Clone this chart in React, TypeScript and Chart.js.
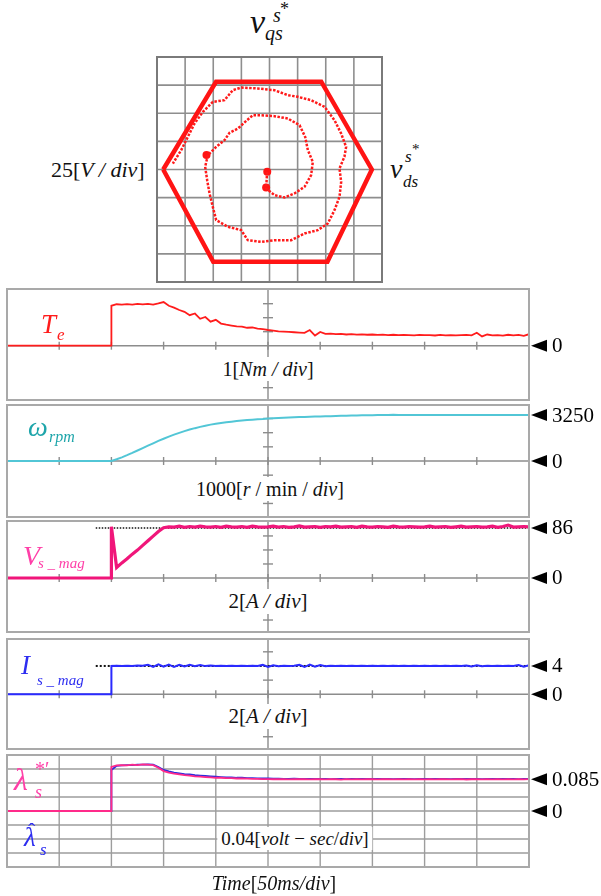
import React, { useEffect, useRef } from "react";
import { Chart, registerables } from "chart.js";

Chart.register(...registerables);

const FONT = "'Liberation Serif', 'Times New Roman', Times, serif";

// ---------------- data ----------------
// time axis (ms), 50 ms / div, step applied at 100 ms
const TIME_MS = [
  0, 25, 50, 75, 100,
  100, 105, 110, 115, 120, 125, 130, 135, 140, 145,
  150, 155, 160, 165, 170, 175, 180, 185, 190, 195,
  200, 205, 210, 215, 220, 225, 230, 235, 240, 245,
  250, 255, 260, 265, 270, 275, 280, 285, 290, 295,
  300, 305, 310, 315, 320, 325, 330, 335, 340, 345,
  350, 355, 360, 365, 370, 375, 380, 385, 390, 395,
  400, 405, 410, 415, 420, 425, 430, 435, 440, 445,
  450, 455, 460, 465, 470, 475, 480, 485, 490, 495,
  500,
];

const TORQUE_NM = [
  0, 0, 0, 0, 0,
  2.85, 2.96, 2.94, 2.97, 2.93, 2.98, 2.95, 2.99, 2.93, 3.02,
  3.12, 2.85, 2.72, 2.55, 2.42, 2.18, 2.3, 1.92, 2.05, 1.72,
  1.85, 1.58, 1.5, 1.44, 1.38, 1.36, 1.28, 1.3, 1.22, 1.18,
  1.12, 1.08, 1.02, 1.0, 0.98, 0.96, 0.94, 0.92, 1.12, 0.72,
  0.98, 0.84, 0.86, 0.82, 0.85, 0.8, 0.83, 0.79, 0.81, 0.78,
  0.8, 0.77, 0.79, 0.76, 0.78, 0.75, 0.77, 0.76, 0.74, 0.77,
  0.75, 0.76, 0.73, 0.77, 0.74, 0.76, 0.73, 0.75, 0.77, 0.74,
  0.92, 0.66, 0.8, 0.74, 0.76, 0.72, 0.78, 0.74, 0.77, 0.7,
  0.82,
];

const SPEED_RPM = [
  0, 0, 0, 0, 0,
  0, 120, 260, 410, 570, 740, 910, 1080, 1250, 1420,
  1570, 1720, 1860, 1990, 2110, 2220, 2320, 2410, 2490, 2570,
  2630, 2690, 2740, 2780, 2820, 2860, 2890, 2920, 2950, 2970,
  3000, 3020, 3040, 3060, 3075, 3090, 3105, 3115, 3130, 3140,
  3150, 3160, 3170, 3180, 3190, 3200, 3210, 3215, 3225, 3230,
  3240, 3245, 3250, 3250, 3260, 3250, 3250, 3255, 3250, 3250,
  3250, 3250, 3255, 3250, 3250, 3250, 3255, 3250, 3250, 3250,
  3250, 3250, 3250, 3255, 3250, 3250, 3250, 3250, 3255, 3250,
  3250,
];

const VS_MAG = [
  0, 0, 0, 0, 0,
  88, 18, 26, 33, 41, 48, 56, 64, 72, 80,
  86.5, 88, 87.5, 89, 87, 88.5, 87.5, 89, 88, 87.5,
  88.5, 87, 89, 88, 87.5, 88.5, 87, 89, 88, 87.5,
  88, 89, 87.5, 88.5, 87, 88, 89.5, 87.5, 88, 88.5,
  87, 88.5, 88, 89, 87.5, 88, 88.5, 87, 89, 88,
  87.5, 88.5, 88, 87, 89, 88, 87.5, 88.5, 88, 87.5,
  88, 89, 87.5, 88, 88.5, 87, 88, 89, 87.5, 88,
  88.5, 87.5, 88, 89, 87, 88.5, 91, 87.5, 88, 88.5,
  88,
];

const IS_MAG = [
  0, 0, 0, 0, 0,
  4.0, 4.02, 4.0, 4.03, 4.01, 4.05, 4.02, 4.18, 3.88, 4.22,
  3.9, 4.2, 3.85, 4.15, 3.92, 4.18, 3.95, 4.12, 3.98, 4.08,
  4.0, 4.03, 3.98, 4.02, 4.0, 4.03, 3.99, 4.02, 4.0, 4.15,
  3.85, 4.1, 3.95, 4.03, 4.0, 4.02, 4.15, 3.85, 4.2, 3.9,
  4.12, 3.96, 4.03, 4.0, 4.02, 3.99, 4.03, 4.01, 4.02, 3.99,
  4.03, 4.0, 4.02, 3.98, 4.04, 4.0, 4.02, 3.99, 4.03, 4.0,
  4.02, 3.98, 4.04, 4.0, 4.02, 3.99, 4.03, 4.0, 4.08, 3.92,
  4.1, 3.95, 4.03, 4.0, 4.02, 3.99, 4.03, 4.0, 4.12, 3.9,
  4.1,
];

const LAMBDA_REF = [
  0, 0, 0, 0, 0,
  0.118, 0.122, 0.123, 0.122, 0.124, 0.123, 0.125, 0.124, 0.123, 0.116,
  0.107, 0.103, 0.1, 0.098, 0.096, 0.095, 0.093, 0.092, 0.091, 0.09,
  0.089, 0.089, 0.088, 0.088, 0.087, 0.087, 0.0865, 0.086, 0.086, 0.0855,
  0.0855, 0.085, 0.0855, 0.085, 0.0845, 0.085, 0.0855, 0.085, 0.0845, 0.085,
  0.085, 0.0845, 0.0855, 0.085, 0.0843, 0.0852, 0.0848, 0.0856, 0.0846, 0.085,
  0.0853, 0.0847, 0.085, 0.0855, 0.0845, 0.0851, 0.0848, 0.0854, 0.0846, 0.0852,
  0.0849, 0.0855, 0.0845, 0.085, 0.0853, 0.0846, 0.0851, 0.0856, 0.0844, 0.085,
  0.0853, 0.0847, 0.0852, 0.0845, 0.0855, 0.0848, 0.0851, 0.0846, 0.0854, 0.0849,
  0.0852,
];

const LAMBDA_EST = [
  0, 0.0005, 0, 0.0004, 0,
  0.11, 0.121, 0.122, 0.123, 0.123, 0.124, 0.124, 0.125, 0.124, 0.118,
  0.11, 0.106, 0.103, 0.101, 0.099, 0.098, 0.096, 0.095, 0.094, 0.093,
  0.092, 0.091, 0.09, 0.09, 0.089, 0.089, 0.088, 0.088, 0.0875, 0.087,
  0.087, 0.0865, 0.0865, 0.086, 0.086, 0.0865, 0.086, 0.0858, 0.0862, 0.086,
  0.0858, 0.0862, 0.0856, 0.086, 0.0863, 0.0855, 0.0859, 0.0861, 0.0857, 0.086,
  0.0857, 0.0861, 0.0858, 0.0862, 0.0856, 0.086, 0.0859, 0.0863, 0.0855, 0.0859,
  0.0861, 0.0857, 0.086, 0.0858, 0.0862, 0.0856, 0.0861, 0.0858, 0.086, 0.0857,
  0.0862, 0.0856, 0.0859, 0.0861, 0.0857, 0.086, 0.0858, 0.0862, 0.0856, 0.0859,
  0.0858,
];

// reference (dotted) lines
const REF_MS = [85, 500];
const VS_REF = [86, 86];
const IS_REF = [4, 4];

// divisions
const TIME_DIVS = [0, 50, 100, 150, 200, 250, 300, 350, 400, 450, 500];
const XY_DIVS = [-100, -75, -50, -25, 0, 25, 50, 75, 100];

// voltage hexagon (V) and transient trajectory (V)
const HEX_VD = [-94.5, -47.5, 46, 91, 51.5, -50, -94.5];
const HEX_VQ = [0, 78, 78, 0, -82, -82, 0];

const PATH_VD = [
  -2.1, -3.0, 4.4, 13.3, 22.2, 31.1, 37.0, 38.5, 34.1, 31.7, 26.7, 16.3, 4.4, -7.4, -14.8,
  -20.7, -28.1, -35.5, -40.0, -47.4, -54.8, -57.2, -55.4, -53.3, -50.4, -47.4, -37.0, -25.2,
  -19.3, -7.4, 4.4, 19.3, 31.1, 42.9, 51.8, 57.8, 62.2, 63.7, 62.2, 66.6, 68.1, 63.7, 57.8,
  48.9, 37.0, 25.2, 16.3, 4.4, -10.4, -25.2, -32.6, -40.0, -50.4, -59.2, -66.6, -72.6, -78.5, -85.9,
];
const PATH_VQ = [
  -2.1, -16.9, -22.8, -24.9, -21.3, -15.4, -5.0, 6.8, 17.2, 29.0, 39.4, 45.3, 47.4, 48.3, 48.3,
  43.2, 36.4, 32.6, 26.1, 20.1, 12.7, 2.4, -9.5, -21.3, -33.2, -45.0, -50.9, -53.9,
  -62.8, -64.3, -62.8, -62.8, -56.9, -53.9, -48.0, -36.1, -24.3, -11.0, 0.9, 11.3, 20.1, 32.0, 43.8,
  55.7, 61.6, 64.6, 66.1, 70.5, 72.0, 72.9, 70.5, 61.6, 60.1, 51.2, 40.9, 29.0, 17.2, 5.3,
];
const DOT_VD = [-2, -3, -56];
const DOT_VQ = [-2, -16, 13];

// ---------------- helpers ----------------
const pts = (xs: number[], ys: number[]) => xs.map((x, i) => ({ x, y: ys[i] }));

function seg(ctx: CanvasRenderingContext2D, x1: number, y1: number, x2: number, y2: number) {
  ctx.beginPath();
  ctx.moveTo(x1, y1);
  ctx.lineTo(x2, y2);
  ctx.stroke();
}

type Marker = { value: number; label: string };
type PanelCfg = {
  top: number;
  bottom: number;
  yMin: number;
  yMax: number;
  yDiv: number;
  fullGrid?: boolean;
  datasets: any[];
  markers: Marker[];
};

const PAD = 6;
const PLOT_LEFT = 7;
const PLOT_RIGHT = 529;
const W = 601;

function scopeDecor(cfg: PanelCfg) {
  return {
    id: "scopeDecor",
    beforeDatasetsDraw(chart: any) {
      const { ctx, chartArea: a, scales } = chart;
      const x = scales.x;
      const y = scales.y;
      ctx.save();
      if (cfg.fullGrid) {
        ctx.strokeStyle = "#9d9d9d";
        ctx.lineWidth = 1.4;
        for (const t of TIME_DIVS) {
          const px = x.getPixelForValue(t);
          seg(ctx, px, a.top, px, a.bottom);
        }
        for (let k = -8; k <= 8; k++) {
          const v = k * cfg.yDiv;
          if (v < cfg.yMin - 1e-9 || v > cfg.yMax + 1e-9) continue;
          const py = y.getPixelForValue(v);
          seg(ctx, a.left, py, a.right, py);
        }
      } else {
        ctx.strokeStyle = "#8c8c8c";
        ctx.lineWidth = 1.4;
        const cx = x.getPixelForValue(250);
        const zy = y.getPixelForValue(0);
        seg(ctx, cx, a.top, cx, a.bottom);
        seg(ctx, a.left, zy, a.right, zy);
        for (const t of TIME_DIVS) {
          const px = x.getPixelForValue(t);
          seg(ctx, px, zy - 4, px, zy + 4);
        }
        for (const k of [-3, -2, -1, 1, 2, 3]) {
          const py = y.getPixelForValue(k * cfg.yDiv);
          seg(ctx, cx - 5, py, cx + 5, py);
        }
      }
      ctx.restore();
    },
    afterDatasetsDraw(chart: any) {
      const { ctx, chartArea: a, scales } = chart;
      const y = scales.y;
      ctx.save();
      ctx.strokeStyle = "#a9a9a9";
      ctx.lineWidth = 2;
      ctx.strokeRect(a.left, a.top, a.right - a.left, a.bottom - a.top);
      ctx.fillStyle = "#000";
      ctx.font = `21px ${FONT}`;
      ctx.textBaseline = "middle";
      for (const m of cfg.markers) {
        const py = y.getPixelForValue(m.value);
        ctx.beginPath();
        ctx.moveTo(a.right + 2, py);
        ctx.lineTo(a.right + 18, py - 6);
        ctx.lineTo(a.right + 18, py + 6);
        ctx.closePath();
        ctx.fill();
        ctx.fillText(m.label, a.right + 23, py + 1);
      }
      ctx.restore();
    },
  };
}

function ScopePanel({ cfg }: { cfg: PanelCfg }) {
  const ref = useRef<HTMLCanvasElement>(null);
  const h = cfg.bottom - cfg.top + 2 * PAD;
  useEffect(() => {
    const chart = new Chart(ref.current as HTMLCanvasElement, {
      type: "line",
      data: { datasets: cfg.datasets },
      options: {
        responsive: false,
        maintainAspectRatio: false,
        animation: false,
        events: [],
        layout: { padding: { left: PLOT_LEFT, right: W - PLOT_RIGHT, top: PAD, bottom: PAD } },
        scales: {
          x: { type: "linear", min: 0, max: 500, display: false },
          y: { type: "linear", min: cfg.yMin, max: cfg.yMax, display: false },
        },
        elements: { point: { radius: 0 }, line: { tension: 0 } },
        plugins: { legend: { display: false }, tooltip: { enabled: false } },
      } as any,
      plugins: [scopeDecor(cfg)],
    });
    return () => chart.destroy();
  }, []);
  return (
    <canvas
      ref={ref}
      width={W}
      height={h}
      style={{ position: "absolute", left: 0, top: cfg.top - PAD, width: W, height: h }}
    />
  );
}

function XYPlot() {
  const ref = useRef<HTMLCanvasElement>(null);
  useEffect(() => {
    const grid = {
      id: "xyGrid",
      beforeDatasetsDraw(chart: any) {
        const { ctx, chartArea: a, scales } = chart;
        ctx.save();
        ctx.strokeStyle = "#8e8e8e";
        ctx.lineWidth = 1.6;
        for (const v of XY_DIVS) {
          const px = scales.x.getPixelForValue(v);
          seg(ctx, px, a.top, px, a.bottom);
          const py = scales.y.getPixelForValue(v);
          seg(ctx, a.left, py, a.right, py);
        }
        ctx.strokeStyle = "#7a7a7a";
        ctx.lineWidth = 2;
        ctx.strokeRect(a.left, a.top, a.right - a.left, a.bottom - a.top);
        ctx.restore();
      },
    };
    const chart = new Chart(ref.current as HTMLCanvasElement, {
      type: "scatter",
      data: {
        datasets: [
          {
            data: pts(HEX_VD, HEX_VQ),
            showLine: true,
            borderColor: "#ff1414",
            borderWidth: 4.5,
            pointRadius: 0,
          },
          {
            data: pts(PATH_VD, PATH_VQ),
            showLine: true,
            borderColor: "#ff1a1a",
            borderWidth: 2.5,
            borderDash: [2.5, 1.5],
            pointRadius: 0,
          },
          {
            data: pts(DOT_VD, DOT_VQ),
            showLine: false,
            backgroundColor: "#ff1414",
            borderWidth: 0,
            pointRadius: 4,
          },
        ],
      },
      options: {
        responsive: false,
        maintainAspectRatio: false,
        animation: false,
        events: [],
        layout: { padding: PAD },
        scales: {
          x: { type: "linear", min: -100, max: 100, display: false },
          y: { type: "linear", min: -100, max: 100, display: false },
        },
        elements: { line: { tension: 0 } },
        plugins: { legend: { display: false }, tooltip: { enabled: false } },
      } as any,
      plugins: [grid],
    });
    return () => chart.destroy();
  }, []);
  const size = 225 + 2 * PAD;
  return (
    <canvas
      ref={ref}
      width={size}
      height={size}
      style={{ position: "absolute", left: 157 - PAD, top: 57 - PAD, width: size, height: size }}
    />
  );
}

const RED = "#ff1c1c";
const TEAL = "#52c6d6";
const PINK = "#f0167a";
const BLUE = "#2a2aff";

const PANELS: PanelCfg[] = [
  {
    top: 289, bottom: 400, yMin: -3.88, yMax: 4.05, yDiv: 1,
    datasets: [{ data: pts(TIME_MS, TORQUE_NM), borderColor: RED, borderWidth: 1.8 }],
    markers: [{ value: 0, label: "0" }],
  },
  {
    top: 405, bottom: 517, yMin: -3956, yMax: 3956, yDiv: 1000,
    datasets: [{ data: pts(TIME_MS, SPEED_RPM), borderColor: TEAL, borderWidth: 2 }],
    markers: [{ value: 3250, label: "3250" }, { value: 0, label: "0" }],
  },
  {
    top: 521, bottom: 632, yMin: -92.9, yMax: 98, yDiv: 24.1,
    datasets: [
      { data: pts(TIME_MS, VS_MAG), borderColor: PINK, borderWidth: 3.2, order: 0 },
      { data: pts(REF_MS, VS_REF), borderColor: "#111", borderWidth: 1.5, borderDash: [1.5, 1.5], order: 1 },
    ],
    markers: [{ value: 86, label: "86" }, { value: 0, label: "0" }],
  },
  {
    top: 639, bottom: 749, yMin: -7.73, yMax: 7.81, yDiv: 2,
    datasets: [
      { data: pts(TIME_MS, IS_MAG), borderColor: BLUE, borderWidth: 2, order: 0 },
      { data: pts(REF_MS, IS_REF), borderColor: "#111", borderWidth: 2, borderDash: [2, 2], order: 1 },
    ],
    markers: [{ value: 4, label: "4" }, { value: 0, label: "0" }],
  },
  {
    top: 755, bottom: 867, yMin: -0.15, yMax: 0.15, yDiv: 0.0375, fullGrid: true,
    datasets: [
      { data: pts(TIME_MS, LAMBDA_REF), borderColor: "#ff2a8a", borderWidth: 1.8, order: 0 },
      { data: pts(TIME_MS, LAMBDA_EST), borderColor: "#2b2bdd", borderWidth: 1.8, order: 1 },
    ],
    markers: [{ value: 0.085, label: "0.085" }, { value: 0, label: "0" }],
  },
];

type LP = {
  x?: number;
  cx?: number;
  base: number;
  size: number;
  italic?: boolean;
  color?: string;
  bg?: boolean;
  children: React.ReactNode;
};

function L({ x, cx, base, size, italic, color = "#111", bg, children }: LP) {
  const padV = bg ? 2 : 0;
  const style: React.CSSProperties = {
    position: "absolute",
    top: base - 0.8375 * size - padV,
    left: cx !== undefined ? cx : x,
    fontFamily: FONT,
    fontSize: size,
    lineHeight: "1",
    fontStyle: italic ? "italic" : "normal",
    color,
    whiteSpace: "pre",
    transform: cx !== undefined ? "translateX(-50%)" : undefined,
    background: bg ? "#fff" : undefined,
    padding: bg ? `${padV}px 4px` : undefined,
  };
  return <div style={style}>{children}</div>;
}

const N = ({ children }: { children: React.ReactNode }) => (
  <span style={{ fontStyle: "normal" }}>{children}</span>
);

function Labels() {
  return (
    <>
      {/* v_qs^s* */}
      <L x={250} base={33} size={34} italic>v</L>
      <L x={265} base={40} size={20} italic>qs</L>
      <L x={273} base={22} size={20} italic>s</L>
      <L x={280} base={15} size={18}>*</L>

      <L x={51} base={177} size={22}>25[<i>V / div</i>]</L>

      {/* v_ds^s* */}
      <L x={390} base={178} size={28} italic>v</L>
      <L x={403} base={187} size={17} italic>ds</L>
      <L x={405} base={162} size={17} italic>s</L>
      <L x={412} base={155} size={15}>*</L>

      {/* T_e */}
      <L x={41} base={334} size={27} italic color={RED}>T</L>
      <L x={57} base={340} size={17} italic color={RED}>e</L>
      <L cx={268} base={376} size={20} bg>1[<i>Nm / div</i>]</L>

      {/* omega */}
      <L x={28} base={436} size={28} italic color="#1ea5aa">ω</L>
      <L x={49} base={442} size={16} italic color="#1ea5aa">rpm</L>
      <L cx={270} base={496} size={20} bg>1000[<i>r</i> / min / <i>div</i>]</L>

      {/* Vs_mag */}
      <L x={23} base={565} size={28} italic color="#ff3fa8">V</L>
      <L x={38} base={569} size={15} italic color="#ff3fa8">s _ mag</L>
      <L cx={268} base={609} size={21} bg>2[<i>A / div</i>]</L>

      {/* Is_mag */}
      <L x={21} base={675} size={27} italic color="#2d2df0">I</L>
      <L x={37} base={686} size={15} italic color="#2d2df0">s _ mag</L>
      <L cx={268} base={724} size={21} bg>2[<i>A / div</i>]</L>

      {/* lambda labels */}
      <L x={14} base={790} size={32} italic color="#ff40a8">λ</L>
      <L x={35} base={776} size={20} color="#ff40a8">*′</L>
      <L x={35} base={798} size={18} italic color="#ff40a8">s</L>
      <L x={24} base={847} size={27} italic color="#2d2df0">λ</L>
      <L x={28} base={838} size={22} color="#2d2df0">ˆ</L>
      <L x={40} base={855} size={17} italic color="#2d2df0">s</L>
      <L cx={295} base={845} size={19} bg>0.04[<i>volt</i> − <i>sec</i>/<i>div</i>]</L>

      <L cx={274} base={890} size={20} italic>Time<N>[</N>50ms/div<N>]</N></L>
    </>
  );
}

export default function App() {
  return (
    <div
      style={{
        position: "fixed",
        left: 0,
        top: 0,
        width: 601,
        height: 896,
        background: "#fff",
        overflow: "hidden",
      }}
    >
      <XYPlot />
      {PANELS.map((p, i) => (
        <ScopePanel key={i} cfg={p} />
      ))}
      <Labels />
    </div>
  );
}
